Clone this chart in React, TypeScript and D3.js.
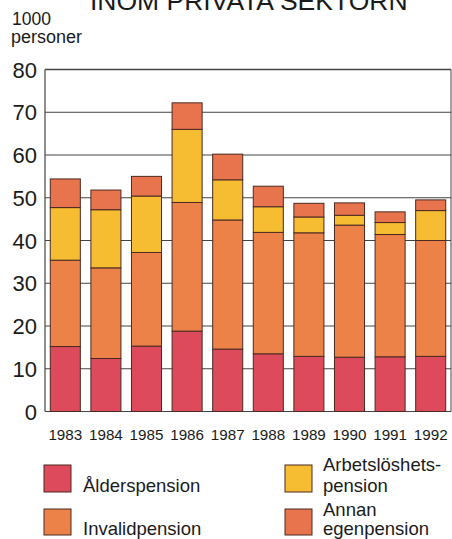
import React from "react";
import * as d3 from "d3";

const years = ["1983","1984","1985","1986","1987","1988","1989","1990","1991","1992"];
const alder = [15.2,12.4,15.3,18.8,14.6,13.5,12.9,12.7,12.8,12.9];
const invalid = [20.2,21.2,21.9,30.1,30.2,28.4,28.9,30.9,28.6,27.1];
const arbets = [12.3,13.6,13.2,17.1,9.4,6.0,3.7,2.3,2.8,7.0];
const annan = [6.7,4.6,4.6,6.2,6.0,4.8,3.2,2.9,2.5,2.5];
const yTicks = [0,10,20,30,40,50,60,70,80];

const seriesKeys = ["alder","invalid","arbets","annan"];
const colors: Record<string,string> = {
  alder: "#dc4a5c",
  invalid: "#ec8248",
  arbets: "#f6bd33",
  annan: "#e8744e",
};

export default function App() {
  const W = 452, H = 539;
  const left = 45, right = 451, top = 69.5, bottom = 411.5;
  const x = d3.scaleBand<string>().domain(years).range([left, right]).paddingInner(0.26).paddingOuter(0.13);
  const y = d3.scaleLinear().domain([0, 80]).range([bottom, top]);
  const rows = years.map((yr, i) => ({ year: yr, alder: alder[i], invalid: invalid[i], arbets: arbets[i], annan: annan[i] }));
  const stacked = d3.stack<any>().keys(seriesKeys)(rows);
  const font = "Liberation Sans, Arial, Helvetica, sans-serif";
  const stroke = "#4a2a22";

  return (
    <svg width={W} height={H} style={{ position: "absolute", left: 0, top: 0, background: "#fff" }} fontFamily={font}>
      <text x={90} y={10} fontSize={26.5} fill="#1a1a1a">INOM PRIVATA SEKTORN</text>
      <text x={12} y={25} fontSize={17.5} fill="#1a1a1a">1000</text>
      <text x={11} y={43} fontSize={18} fill="#1a1a1a">personer</text>
      {yTicks.map(t => (
        <g key={t}>
          <line x1={left} x2={right} y1={y(t)} y2={y(t)} stroke="#444" strokeWidth={t === 80 ? 1.6 : 1} />
          <text x={37} y={y(t) + 8} fontSize={22} textAnchor="end" fill="#1a1a1a">{t}</text>
        </g>
      ))}
      <line x1={left} x2={left} y1={top} y2={bottom} stroke="#444" strokeWidth={1.2} />
      <line x1={right} x2={right} y1={top} y2={bottom} stroke="#444" strokeWidth={1} />
      {stacked.map(s => (
        <g key={s.key}>
          {s.map((d, i) => (
            <rect key={i} x={x(years[i])!} width={x.bandwidth()} y={y(d[1])} height={y(d[0]) - y(d[1])}
              fill={colors[s.key]} stroke={stroke} strokeWidth={1} />
          ))}
        </g>
      ))}
      {years.map(yr => (
        <text key={yr} x={x(yr)! + x.bandwidth() / 2} y={440} fontSize={15.2} textAnchor="middle" fill="#1a1a1a">{yr}</text>
      ))}
      <rect x={44} y={465} width={27} height={27} fill={colors.alder} stroke={stroke} strokeWidth={1} />
      <text x={83} y={492} fontSize={18.5} fill="#1a1a1a">Ålderspension</text>
      <rect x={44} y={509} width={27} height={26} fill={colors.invalid} stroke={stroke} strokeWidth={1} />
      <text x={83} y={535} fontSize={18.5} fill="#1a1a1a">Invalidpension</text>
      <rect x={285} y={465} width={27} height={27} fill={colors.arbets} stroke={stroke} strokeWidth={1} />
      <text x={323} y={471} fontSize={18.5} fill="#1a1a1a">Arbetslöshets-</text>
      <text x={323} y={492} fontSize={18.5} fill="#1a1a1a">pension</text>
      <rect x={285} y={509} width={27} height={26} fill={colors.annan} stroke={stroke} strokeWidth={1} />
      <text x={323} y={516} fontSize={18.5} fill="#1a1a1a">Annan</text>
      <text x={323} y={535} fontSize={18.5} fill="#1a1a1a">egenpension</text>
    </svg>
  );
}
